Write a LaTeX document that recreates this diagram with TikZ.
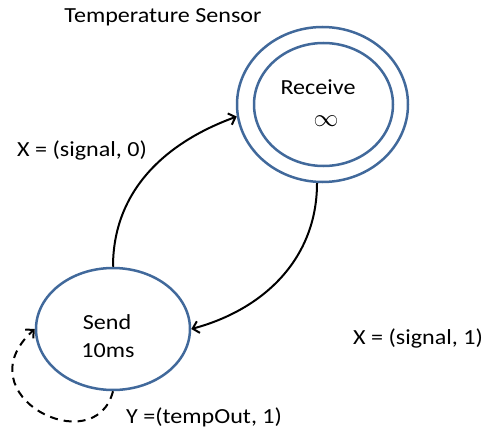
\documentclass[tikz,border=0pt]{standalone}
\usepackage{fontspec}
\setmainfont{Carlito}[FakeStretch=1.12]
\usetikzlibrary{shapes.geometric,arrows.meta}
\definecolor{stateblue}{RGB}{65,105,155}
\tikzset{
  state/.style={ellipse, draw=stateblue, line width=2.5pt, inner sep=0pt, align=center},
  trans/.style={line width=2pt, -{Straight Barb[length=6pt,width=12pt,line width=2pt]}},
  lbl/.style={font=\fontsize{21.5}{25}\selectfont, inner sep=0pt},
}
\begin{document}
\begin{tikzpicture}[x=1pt,y=1pt]
\useasboundingbox (0,0) rectangle (483,-431);
\node[state, minimum width=171pt, minimum height=155pt] (recv) at (322.5,-104.5) {};
\node[state, minimum width=139pt, minimum height=123pt] (recvin) at (323.5,-104.5) {};
\node[state, minimum width=154pt, minimum height=122pt] (send) at (113,-329) {};
\node[lbl] (title) at (163,-17) {Temperature Sensor};
\node[lbl] (rname) at (318,-87) {Receive};
\node[lbl, font=\fontsize{30}{30}\selectfont] (rinf) at (326,-121) {$\infty$};
\node[lbl] (sname) at (107,-322) {Send};
\node[lbl] (stime) at (108,-351) {10ms};
\node[lbl, anchor=west] (x0) at (17,-150) {X = (signal, 0)};
\node[lbl, anchor=west] (x1) at (353,-338) {X = (signal, 1)};
\node[lbl, anchor=west] (y1) at (126,-417) {Y =(tempOut, 1)};
\draw[trans] (send.north) to[out=90, in=200] (recv.188);
\draw[trans] (recv.266) to[out=-90, in=15] (send.east);
\draw[trans, dash pattern=on 8pt off 6pt] (send.south) .. controls (95,-462) and (-38,-395) .. (send.west);
\end{tikzpicture}
\end{document}
